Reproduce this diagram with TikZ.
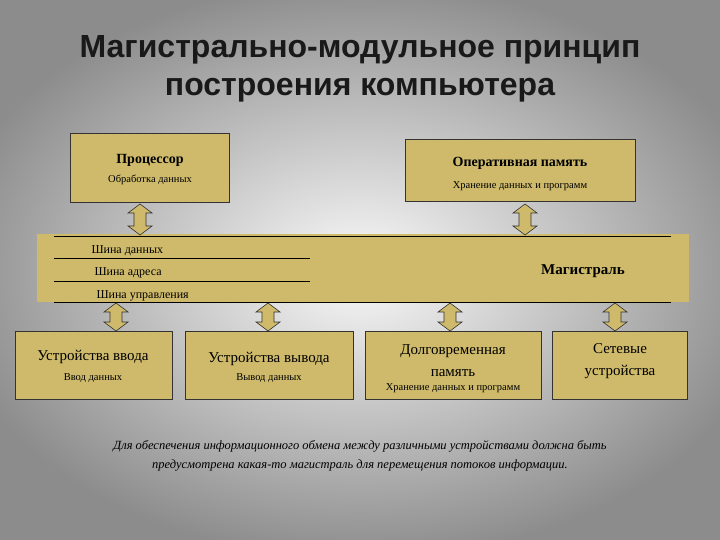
\documentclass[tikz,border=0pt]{standalone}
\usepackage{fontspec}
\setmainfont{Liberation Serif}
\newfontfamily\titlefont{Liberation Sans}
\definecolor{tan}{RGB}{206,186,106}
\definecolor{bgout}{RGB}{140,140,140}
\definecolor{bgin}{RGB}{250,250,250}
\tikzset{
  box/.style={draw=black!80, fill=tan, line width=0.6pt},
  dblarr/.style={draw=black!80, fill=tan, line width=0.6pt, line join=miter},
  head/.style={font=\bfseries\fontsize{14}{16}\selectfont},
  sub/.style={font=\fontsize{10.5}{12}\selectfont},
  big/.style={font=\fontsize{15}{17}\selectfont, align=center},
  bus/.style={font=\fontsize{12}{14}\selectfont}
}
% #1 x, #2 top y, #3 bottom y
\newcommand\myarrow[3]{%
  \draw[dblarr] (#1,#2) -- ++(12,9) -- ++(-6,0) -- (#1+6,#3-9) -- ++(6,0) -- (#1,#3)
    -- ++(-12,-9) -- ++(6,0) -- (#1-6,#2+9) -- ++(-6,0) -- cycle;}
\begin{document}
\begin{tikzpicture}[x=1pt,y=-1pt]
\useasboundingbox (0,0) rectangle (720,540);
\shade[inner color=bgin, outer color=bgout] (-60,-20) rectangle (780,560);
% title
\node[font=\titlefont\bfseries\fontsize{32}{38}\selectfont, text=black!90, align=center] (title) at (360,69)
  {Магистрально-модульное принцип\\построения компьютера};
% top boxes
\draw[box] (70,133) rectangle (229,202);
\node[head] (p1) at (150,160) {Процессор};
\node[sub] (p2) at (150,180) {Обработка данных};
\draw[box] (405,139) rectangle (635,201);
\node[head] (r1) at (520,163) {Оперативная память};
\node[sub] (r2) at (520,186) {Хранение данных и программ};
% bus
\fill[tan] (37,234) rectangle (689,302);
\draw[black, line width=0.6pt] (54,236) -- (671,236);
\draw[black, line width=0.6pt] (54,258) -- (310,258);
\draw[black, line width=0.6pt] (54,281) -- (310,281);
\draw[black, line width=0.6pt] (54,302) -- (671,302);
\node[bus, anchor=west] (b1) at (88,251) {Шина данных};
\node[bus, anchor=west] (b2) at (91,273) {Шина адреса};
\node[bus, anchor=west] (b3) at (93,296) {Шина управления};
\node[font=\bfseries\fontsize{15}{17}\selectfont] (mag) at (583,271) {Магистраль};
% arrows
\myarrow{140}{204}{235}
\myarrow{525}{204}{235}
\myarrow{116}{303}{331}
\myarrow{268}{303}{331}
\myarrow{450}{303}{331}
\myarrow{615}{303}{331}
% bottom boxes
\draw[box] (15,331) rectangle (172,399);
\node[big] (i1) at (93,357) {Устройства ввода};
\node[sub] (i2) at (93,378) {Ввод данных};
\draw[box] (185,331) rectangle (353,399);
\node[big] (o1) at (269,359) {Устройства вывода};
\node[sub] (o2) at (269,378) {Вывод данных};
\draw[box] (365,331) rectangle (541,399);
\node[big, font=\fontsize{15}{22}\selectfont] (d1) at (453,361) {Долговременная\\память};
\node[sub] (d2) at (453,388) {Хранение данных и программ};
\draw[box] (552,331) rectangle (687,399);
\node[big, font=\fontsize{15}{22}\selectfont] (n1) at (620,361) {Сетевые\\устройства};
% caption
\node[font=\itshape\fontsize{12.5}{19}\selectfont, align=center] (cap) at (360,456)
  {Для обеспечения информационного обмена между различными устройствами должна быть\\предусмотрена какая-то магистраль для перемещения потоков информации.};
\end{tikzpicture}
\end{document}
